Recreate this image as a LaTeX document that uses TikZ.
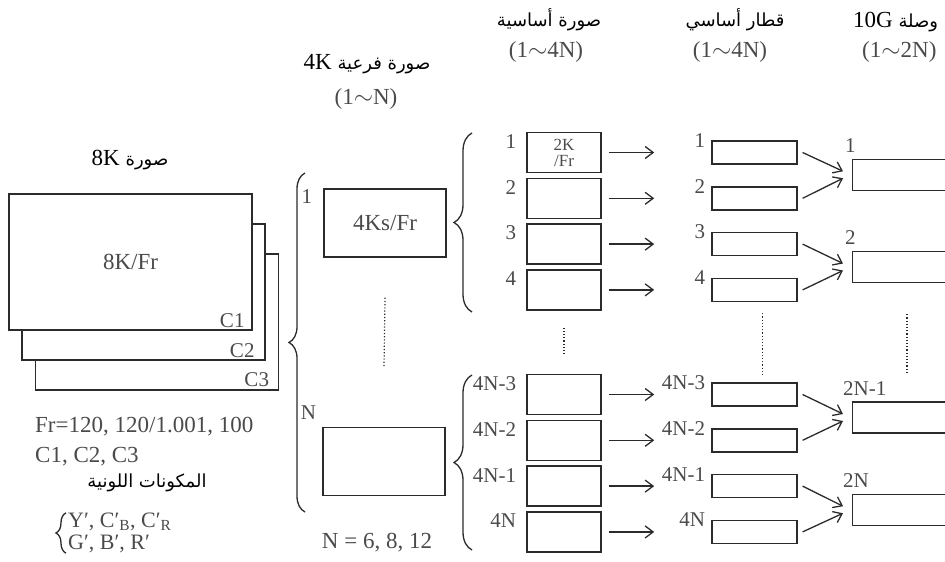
\documentclass[tikz,border=0pt]{standalone}
\usepackage{fontspec}
\setmainfont{Liberation Serif}
\newfontfamily\arabicfont[Script=Arabic]{DejaVu Sans}
\TeXXeTstate=1
\usetikzlibrary{arrows.meta,positioning,decorations.pathreplacing}
\definecolor{Ink}{HTML}{2B2B2B}
\definecolor{Label}{HTML}{4A4A4A}
\newcommand\artext[1]{{\arabicfont\fontsize{18}{20}\selectfont\beginR #1\endR}}
\tikzset{
  frame/.style={draw=Ink,fill=white,line width=1.4pt,minimum width=243pt,minimum height=136pt,inner sep=0pt},
  sub/.style={draw=Ink,line width=1.4pt,minimum width=122pt,minimum height=68pt,font=\fontsize{23}{24}\selectfont,text=Label},
  basic/.style={draw=Ink,line width=1.4pt,minimum width=74pt,minimum height=40pt,inner sep=0pt,align=center,font=\fontsize{17}{16}\selectfont,text=Label},
  train/.style={draw=Ink,line width=1.4pt,minimum width=85pt,minimum height=23pt,inner sep=0pt},
  link/.style={draw=Ink,line width=1.4pt,minimum width=120pt,minimum height=31pt,inner sep=0pt,anchor=west},
  lab/.style={inner sep=0pt,font=\fontsize{21}{22}\selectfont,text=Label},
  hdr/.style={inner sep=0pt,font=\fontsize{23}{24}\selectfont},
  ar/.style={inner sep=0pt,font=\arabicfont\fontsize{18}{20}\selectfont},
  arr/.style={-{Straight Barb[length=8pt,width=12pt]},draw=Ink,line width=1.3pt},
  dots/.style={draw=Ink,dotted,line width=1.2pt},
  brc/.style={draw=Ink,line width=1.3pt,decorate,decoration={brace,amplitude=#1}},
  brc/.default=16pt,
}

\begin{document}
\begin{tikzpicture}[x=1pt,y=-1pt]
  \path[use as bounding box] (0,0) rectangle (945,562);
  \clip (0,0) rectangle (945,562);

  % 8K picture, three colour planes
  \node[frame] (f3) at (157,322) {};
  \node[frame] (f2) at (143.5,292) {};
  \node[frame] (f1) at (130.5,262) {};
  \node[hdr,text=Label] (f1txt) at (f1) {8K/Fr};
  \node[lab,anchor=south east] (c1) at ([xshift=-8pt,yshift=3pt]f1.south east) {C1};
  \node[lab,anchor=south east] (c2) at ([xshift=-11pt,yshift=3pt]f2.south east) {C2};
  \node[lab,anchor=south east] (c3) at ([xshift=-10pt,yshift=4pt]f3.south east) {C3};
  \node[hdr] (t8k) at (130,160) {8K \artext{صورة}};

  \node[hdr,text=Label,anchor=west] (fr) at (35,427) {Fr=120, 120/1.001, 100};
  \node[hdr,text=Label,anchor=west] (cc) at (35,457) {C1, C2, C3};
  \node[ar] (colour) at (147,483) {\beginR المكونات اللونية\endR};
  \node[lab,anchor=west,align=left,font=\fontsize{22}{22}\selectfont] (ycc) at (68,533) {Y′, C′\textsubscript{B}, C′\textsubscript{R}\\G′, B′, R′};
  \draw[brc=10pt] ([xshift=-2pt]ycc.south west) -- ([xshift=-2pt]ycc.north west);

  % 4K sub pictures
  \draw[brc] (305,512) -- (305,173);
  \node[hdr] (t4k) at (367,64) {4K \artext{صورة فرعية}};
  \node[hdr,text=Label] (t4kn) at (366,99) {(1$\sim$N)};
  \node[sub] (k1) at (385,223) {4Ks/Fr};
  \node[sub] (kN) at (384,461.5) {};
  \node[lab,anchor=east] (k1n) at ([xshift=-11pt,yshift=-8pt]k1.north west) {1};
  \node[lab,anchor=east] (kNn) at ([xshift=-6pt,yshift=14pt]kN.north west) {N};
  \draw[dots] ([yshift=-40pt]k1.south) -- ([yshift=59pt]kN.north);
  \node[hdr,text=Label] (nval) at (377,543) {N = 6, 8, 12};

  % basic pictures
  \node[ar] (tb) at (549,20) {\beginR صورة أساسية\endR};
  \node[hdr,text=Label] (tbn) at (546,52) {(1$\sim$4N)};
  \draw[brc=18pt] (472,312) -- (472,133);
  \draw[brc=18pt] (472,550) -- (472,375);
  \node[basic] (b1) at (564,152.5) {2K\\/Fr};
  \node[basic,below=4.4pt of b1] (b2) {};
  \node[basic,below=4.4pt of b2] (b3) {};
  \node[basic,below=4.4pt of b3] (b4) {};
  \node[basic] (b5) at (564,394.5) {};
  \node[basic,below=4.4pt of b5] (b6) {};
  \node[basic,below=4.4pt of b6] (b7) {};
  \node[basic,below=4.4pt of b7] (b8) {};
  \node[lab,anchor=east] (b1n) at ([xshift=-10pt,yshift=11pt]b1.west) {1};
  \node[lab,anchor=east] (b2n) at ([xshift=-10pt,yshift=11pt]b2.west) {2};
  \node[lab,anchor=east] (b3n) at ([xshift=-10pt,yshift=11pt]b3.west) {3};
  \node[lab,anchor=east] (b4n) at ([xshift=-10pt,yshift=11pt]b4.west) {4};
  \node[lab,anchor=east] (b5n) at ([xshift=-10pt,yshift=11pt]b5.west) {4N-3};
  \node[lab,anchor=east] (b6n) at ([xshift=-10pt,yshift=11pt]b6.west) {4N-2};
  \node[lab,anchor=east] (b7n) at ([xshift=-10pt,yshift=11pt]b7.west) {4N-1};
  \node[lab,anchor=east] (b8n) at ([xshift=-10pt,yshift=11pt]b8.west) {4N};
  \draw[dots] ([yshift=-17pt]b4.south) -- ([yshift=19pt]b5.north);

  % basic trains
  \node[ar] (tt) at (735,20) {\beginR قطار أساسي\endR};
  \node[hdr,text=Label] (ttn) at (730,52) {(1$\sim$4N)};
  \node[train,right=109.5pt of b1] (t1) {};
  \node[train,right=109.5pt of b2] (t2) {};
  \node[train,right=109.5pt of b3] (t3) {};
  \node[train,right=109.5pt of b4] (t4) {};
  \node[train,right=109.5pt of b5] (t5) {};
  \node[train,right=109.5pt of b6] (t6) {};
  \node[train,right=109.5pt of b7] (t7) {};
  \node[train,right=109.5pt of b8] (t8) {};
  \node[lab,anchor=east] (t1n) at ([xshift=-6pt,yshift=12pt]t1.west) {1};
  \node[lab,anchor=east] (t2n) at ([xshift=-6pt,yshift=12pt]t2.west) {2};
  \node[lab,anchor=east] (t3n) at ([xshift=-6pt,yshift=12pt]t3.west) {3};
  \node[lab,anchor=east] (t4n) at ([xshift=-6pt,yshift=12pt]t4.west) {4};
  \node[lab,anchor=east] (t5n) at ([xshift=-6pt,yshift=12pt]t5.west) {4N-3};
  \node[lab,anchor=east] (t6n) at ([xshift=-6pt,yshift=12pt]t6.west) {4N-2};
  \node[lab,anchor=east] (t7n) at ([xshift=-6pt,yshift=12pt]t7.west) {4N-1};
  \node[lab,anchor=east] (t8n) at ([xshift=-6pt,yshift=12pt]t8.west) {4N};
  \draw[arr] ([xshift=7pt]b1.east) -- ([xshift=-57pt]t1.west);
  \draw[arr] ([xshift=7pt]b2.east) -- ([xshift=-57pt]t2.west);
  \draw[arr] ([xshift=7pt]b3.east) -- ([xshift=-57pt]t3.west);
  \draw[arr] ([xshift=7pt]b4.east) -- ([xshift=-57pt]t4.west);
  \draw[arr] ([xshift=7pt]b5.east) -- ([xshift=-57pt]t5.west);
  \draw[arr] ([xshift=7pt]b6.east) -- ([xshift=-57pt]t6.west);
  \draw[arr] ([xshift=7pt]b7.east) -- ([xshift=-57pt]t7.west);
  \draw[arr] ([xshift=7pt]b8.east) -- ([xshift=-57pt]t8.west);
  \draw[dots] ([xshift=8pt,yshift=-11pt]t4.south) -- ([xshift=8pt,yshift=8pt]t5.north);

  % 10G links
  \node[hdr,anchor=west] (tl) at (853,22) {10G \artext{وصلة}};
  \node[hdr,text=Label,anchor=west] (tln) at (862,52) {(1$\sim$2N)};
  \node[link] (l1) at (852,174.75) {};
  \node[link] (l2) at (852,267) {};
  \node[link] (l3) at (852,417.5) {};
  \node[link] (l4) at (852,509.75) {};
  \node[lab,anchor=south west] (l1n) at ([xshift=-7pt,yshift=6pt]l1.north west) {1};
  \node[lab,anchor=south west] (l2n) at ([xshift=-7pt,yshift=6pt]l2.north west) {2};
  \node[lab,anchor=south west] (l3n) at ([xshift=-9pt,yshift=6pt]l3.north west) {2N-1};
  \node[lab,anchor=south west] (l4n) at ([xshift=-9pt,yshift=6pt]l4.north west) {2N};
  \draw[arr] ([xshift=5pt]t1.east) -- ([xshift=-9pt,yshift=3.5pt]l1.west);
  \draw[arr] ([xshift=5pt]t2.east) -- ([xshift=-9pt,yshift=-3.5pt]l1.west);
  \draw[arr] ([xshift=5pt]t3.east) -- ([xshift=-9pt,yshift=3.5pt]l2.west);
  \draw[arr] ([xshift=5pt]t4.east) -- ([xshift=-9pt,yshift=-3.5pt]l2.west);
  \draw[arr] ([xshift=5pt]t5.east) -- ([xshift=-9pt,yshift=3.5pt]l3.west);
  \draw[arr] ([xshift=5pt]t6.east) -- ([xshift=-9pt,yshift=-3.5pt]l3.west);
  \draw[arr] ([xshift=5pt]t7.east) -- ([xshift=-9pt,yshift=3.5pt]l4.west);
  \draw[arr] ([xshift=5pt]t8.east) -- ([xshift=-9pt,yshift=-3.5pt]l4.west);
  \draw[dots] ([xshift=55pt,yshift=-31pt]l2.south west) -- ([xshift=55pt,yshift=28pt]l3.north west);
\end{tikzpicture}
\end{document}
